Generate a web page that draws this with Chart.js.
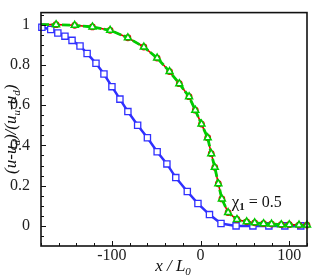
<!DOCTYPE html>
<html>
<head>
<meta charset="utf-8">
<script src="https://cdn.jsdelivr.net/npm/chart.js@4/dist/chart.umd.min.js"></script>
<style>
  html, body { margin: 0; padding: 0; background: #fff; }
  #chart { display: block; }
</style>
</head>
<body>
<canvas id="chart" width="315" height="280"></canvas>
<script>
// data
var blueX = [-179, -169, -161, -153, -145, -136, -128, -118, -109, -100, -91, -82, -71, -60, -49, -38, -28, -15, -3, 10, 23, 40, 59, 77, 95, 113];
var blueY = [0.987, 0.976, 0.959, 0.943, 0.922, 0.894, 0.857, 0.808, 0.755, 0.692, 0.630, 0.568, 0.500, 0.438, 0.368, 0.308, 0.240, 0.171, 0.111, 0.056, 0.012, 0.0, 0.0, 0.0, 0.0, 0.0];

var greenX = [-180, -163, -142, -122, -102, -82, -64, -49, -35, -24, -13, -6, 1, 8, 12, 16, 20, 24, 31, 41, 52, 61, 71, 80, 91, 100, 111, 120];
var greenY = [1.0, 1.0, 0.997, 0.989, 0.972, 0.935, 0.889, 0.834, 0.767, 0.707, 0.642, 0.575, 0.506, 0.438, 0.359, 0.291, 0.210, 0.134, 0.066, 0.032, 0.020, 0.015, 0.011, 0.009, 0.006, 0.006, 0.004, 0.004];

var xTicks = [-100, 0, 100];
var yTicks = [0, 0.2, 0.4, 0.6, 0.8, 1];
var yTickText = ['0', '0.2', '0.4', '0.6', '0.8', '1'];

function pts(xs, ys) {
  return xs.map(function(x, i) { return { x: x, y: ys[i] }; });
}

var serif = "'Liberation Serif', 'Times New Roman', serif";

// frame, inward ticks, titles and the label
var decor = {
  id: 'decor',
  afterDraw: function(chart) {
    var ctx = chart.ctx;
    var a = chart.chartArea;
    var xs = chart.scales.x, ys = chart.scales.y;
    ctx.save();
    ctx.strokeStyle = '#111';
    ctx.lineWidth = 1;
    // minor/major ticks
    for (var v = -180; v <= 120; v += 20) {
      var px = Math.round(xs.getPixelForValue(v)) + 0.5;
      var len = (v % 100 === 0) ? 5 : 3;
      ctx.beginPath(); ctx.moveTo(px, a.bottom); ctx.lineTo(px, a.bottom - len); ctx.stroke();
    }
    for (var k = -2; k <= 21; k++) {
      var yv = k * 0.05;
      var py = Math.round(ys.getPixelForValue(yv)) + 0.5;
      if (py < a.top || py > a.bottom) continue;
      var l2 = (k % 4 === 0) ? 5 : 3;
      ctx.beginPath(); ctx.moveTo(a.left, py); ctx.lineTo(a.left + l2, py); ctx.stroke();
    }
    // frame
    ctx.lineWidth = 1.6;
    ctx.strokeRect(a.left, a.top, a.right - a.left, a.bottom - a.top);

    ctx.fillStyle = '#111';
    ctx.textBaseline = 'alphabetic';
    // x title: x / L0
    ctx.font = 'italic 17px ' + serif;
    var xt = 'x / L';
    var w1 = ctx.measureText(xt).width;
    ctx.font = 'italic 11px ' + serif;
    var w2 = ctx.measureText('0').width;
    var sx = (a.left + a.right) / 2 - (w1 + w2) / 2 - 1;
    ctx.font = 'italic 17px ' + serif;
    ctx.fillText(xt, sx, 271);
    ctx.font = 'italic 11px ' + serif;
    ctx.fillText('0', sx + w1, 275);

    // y title: (u-u_d)/(u_u-u_d), rotated
    var parts = [['(u-u', 0], ['d', 1], [')/(u', 0], ['u', 1], ['-u', 0], ['d', 1], [')', 0]];
    var total = 0;
    parts.forEach(function(p) {
      ctx.font = 'italic ' + (p[1] ? 11 : 17) + 'px ' + serif;
      total += ctx.measureText(p[0]).width;
    });
    ctx.translate(16, (a.top + a.bottom) / 2 + total / 2);
    ctx.rotate(-Math.PI / 2);
    var cx = 0;
    parts.forEach(function(p) {
      ctx.font = 'italic ' + (p[1] ? 11 : 17) + 'px ' + serif;
      ctx.fillText(p[0], cx, p[1] ? 4 : 0);
      cx += ctx.measureText(p[0]).width;
    });
    ctx.setTransform(1, 0, 0, 1, 0, 0);

    // chi label
    var lx = xs.getPixelForValue(35), ly = ys.getPixelForValue(0.12) + 5;
    ctx.font = '17px ' + serif;
    ctx.fillText('\u03c7', lx, ly);
    var cw = ctx.measureText('\u03c7').width;
    ctx.font = 'bold 11px ' + serif;
    ctx.fillText('1', lx + cw, ly + 3);
    var ow = ctx.measureText('1').width;
    ctx.font = '16px ' + serif;
    ctx.fillText(' = 0.5', lx + cw + ow, ly);
    ctx.restore();
  }
};

var ctx = document.getElementById('chart').getContext('2d');
var myChart = new Chart(ctx, {
  type: 'scatter',
  data: {
    datasets: [{
      data: pts(greenX, greenY),
      showLine: true,
      borderColor: '#00cc00',
      borderWidth: 2.8,
      borderDash: [8, 2.5],
      pointStyle: 'triangle',
      pointRadius: function(c) { return c.dataIndex === 0 ? 0 : 4; },
      pointBorderColor: '#00cc00',
      pointBackgroundColor: '#fff',
      pointBorderWidth: 1.5
    }, {
      data: pts(greenX, greenY),
      showLine: true,
      borderColor: '#e00000',
      borderWidth: 1.6,
      pointStyle: 'circle',
      pointRadius: function(c) { return c.dataIndex === 0 ? 0 : 2.8; },
      pointBorderColor: '#e00000',
      pointBackgroundColor: '#fff',
      pointBorderWidth: 1.2
    }, {
      data: pts(blueX, blueY),
      showLine: true,
      borderColor: '#3030ff',
      borderWidth: 2.5,
      pointStyle: 'rect',
      pointRadius: 4.4,
      pointBorderColor: '#3030ff',
      pointBackgroundColor: '#fff',
      pointBorderWidth: 1.3
    }]
  },
  options: {
    responsive: false,
    animation: false,
    clip: false,
    layout: { padding: { left: 0, top: 8, right: 8, bottom: 0 } },
    plugins: { legend: { display: false }, tooltip: { enabled: false } },
    scales: {
      x: {
        type: 'linear',
        min: -180,
        max: 120,
        grid: { display: false },
        border: { display: false },
        afterBuildTicks: function(s) { s.ticks = xTicks.map(function(v) { return { value: v }; }); },
        afterFit: function(s) { s.height = 34; },
        ticks: {
          color: '#222',
          padding: -8,
          maxRotation: 0,
          font: { family: serif, size: 16 },
          callback: function(v) { return String(v); }
        }
      },
      y: {
        type: 'linear',
        min: -0.1,
        max: 1.06,
        grid: { display: false },
        border: { display: false },
        afterBuildTicks: function(s) { s.ticks = yTicks.map(function(v) { return { value: v }; }); },
        afterFit: function(s) { s.width = 41; },
        ticks: {
          color: '#222',
          padding: 3,
          font: { family: serif, size: 16 },
          callback: function(v) { return yTickText[yTicks.indexOf(v)]; }
        }
      }
    }
  },
  plugins: [decor]
});
</script>
</body>
</html>
